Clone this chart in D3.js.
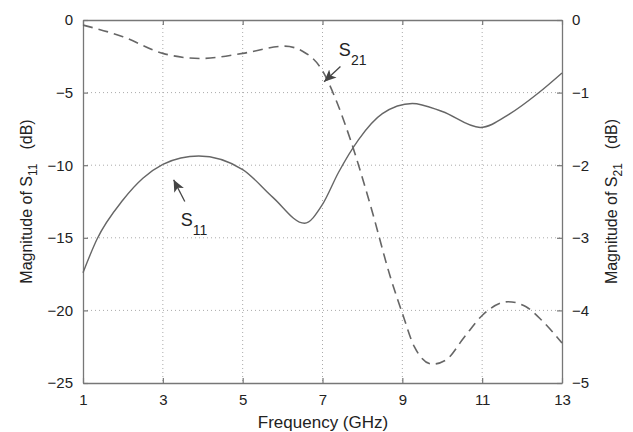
<!DOCTYPE html>
<html>
<head>
<meta charset="utf-8">
<script src="https://cdn.jsdelivr.net/npm/d3@7"></script>
<style>
  body { margin: 0; background: #fff; }
  text { font-family: "Liberation Sans", Arial, sans-serif; fill: #222; }
</style>
</head>
<body>
<svg id="chart"></svg>
<script>
const svgWidth = 633;
const svgHeight = 432;

// S11 (left axis, dB)
const s11Freq = [1, 1.35, 2, 2.5, 3, 3.45, 3.9, 5, 5.75, 6.55, 7, 7.4, 7.9, 8.5, 9.25, 10, 10.95, 11.7, 12.4, 13];
const s11Mag = [-17.4, -15.1, -12.4, -10.9, -9.95, -9.5, -9.37, -10.3, -12.2, -14.0, -12.7, -10.5, -8.25, -6.45, -5.75, -6.3, -7.4, -6.45, -5.05, -3.65];

// S21 (right axis, dB)
const s21Freq = [1, 2, 3, 3.95, 5, 6.05, 6.5, 7, 7.3, 7.7, 8.2, 8.7, 9, 9.3, 9.75, 10.1, 10.55, 11, 11.65, 12.1, 12.5, 13];
const s21Mag = [-0.07, -0.23, -0.46, -0.53, -0.46, -0.36, -0.43, -0.7, -1.05, -1.65, -2.55, -3.54, -4.04, -4.5, -4.74, -4.68, -4.37, -4.07, -3.88, -3.95, -4.14, -4.45];

const xTicks = [1, 3, 5, 7, 9, 11, 13];
const yLeftTicks = [0, -5, -10, -15, -20, -25];
const yRightTicks = [0, -1, -2, -3, -4, -5];

const margin = { top: 20, right: 71, bottom: 49, left: 83 };
const width = svgWidth - margin.left - margin.right;
const height = svgHeight - margin.top - margin.bottom;

const lineColor = "#666";
const axisColor = "#777";

const svg = d3.select("#chart")
  .attr("width", svgWidth)
  .attr("height", svgHeight);

const g = svg.append("g")
  .attr("transform", `translate(${margin.left},${margin.top})`);

const x = d3.scaleLinear().domain([1, 13]).range([0, width]);
const yL = d3.scaleLinear().domain([-25, 0]).range([height, 0]);
const yR = d3.scaleLinear().domain([-5, 0]).range([height, 0]);

// dotted grid
g.append("g").selectAll("line")
  .data(xTicks.slice(1, -1))
  .enter().append("line")
  .attr("x1", d => x(d)).attr("x2", d => x(d))
  .attr("y1", 0).attr("y2", height)
  .attr("stroke", "#aaa").attr("stroke-dasharray", "1,3");

g.append("g").selectAll("line")
  .data(yLeftTicks.slice(1, -1))
  .enter().append("line")
  .attr("x1", 0).attr("x2", width)
  .attr("y1", d => yL(d)).attr("y2", d => yL(d))
  .attr("stroke", "#aaa").attr("stroke-dasharray", "1,3");

const fmt = d3.format("");

// axes, ticks pointing inward
const xAxis = g.append("g")
  .attr("transform", `translate(0,${height})`)
  .call(d3.axisBottom(x).tickValues(xTicks).tickSizeInner(-5).tickSizeOuter(0).tickPadding(11).tickFormat(fmt));

const xTop = g.append("g")
  .call(d3.axisTop(x).tickValues(xTicks).tickSizeInner(-5).tickSizeOuter(0).tickFormat(""));

const yAxisL = g.append("g")
  .call(d3.axisLeft(yL).tickValues(yLeftTicks).tickSizeInner(-5).tickSizeOuter(0).tickPadding(10).tickFormat(fmt));

const yAxisR = g.append("g")
  .attr("transform", `translate(${width},0)`)
  .call(d3.axisRight(yR).tickValues(yRightTicks).tickSizeInner(-5).tickSizeOuter(0).tickPadding(10).tickFormat(fmt));

[xAxis, xTop, yAxisL, yAxisR].forEach(a => {
  a.select(".domain").attr("stroke", axisColor).attr("stroke-width", 1.3);
  a.selectAll(".tick line").attr("stroke", axisColor).attr("stroke-width", 1.2);
  a.selectAll(".tick text")
    .attr("fill", "#222")
    .style("font-size", "15px")
    .style("font-family", "Liberation Sans, Arial, sans-serif");
});

// curves
const lineL = d3.line()
  .x((d, i) => x(s11Freq[i]))
  .y(d => yL(d))
  .curve(d3.curveMonotoneX);

const lineR = d3.line()
  .x((d, i) => x(s21Freq[i]))
  .y(d => yR(d))
  .curve(d3.curveMonotoneX);

g.append("path")
  .datum(s11Mag)
  .attr("fill", "none")
  .attr("stroke", lineColor)
  .attr("stroke-width", 1.4)
  .attr("d", lineL);

g.append("path")
  .datum(s21Mag)
  .attr("fill", "none")
  .attr("stroke", lineColor)
  .attr("stroke-width", 1.6)
  .attr("stroke-dasharray", "10,6")
  .attr("d", lineR);

// arrow markers
svg.append("defs").append("marker")
  .attr("id", "arrow")
  .attr("viewBox", "0 0 10 10")
  .attr("refX", 10).attr("refY", 5)
  .attr("markerWidth", 12).attr("markerHeight", 12)
  .attr("markerUnits", "userSpaceOnUse")
  .attr("orient", "auto")
  .append("path")
  .attr("d", "M0,0.5 L10,5 L0,9.5 L2.5,5 Z")
  .attr("fill", "#444");

// annotations (positions in data coordinates)
function annotate(label, sub, fx, fy, tx, ty, lx, ly, scaleY) {
  g.append("line")
    .attr("x1", x(fx)).attr("y1", scaleY(fy))
    .attr("x2", x(tx)).attr("y2", scaleY(ty))
    .attr("stroke", "#444").attr("stroke-width", 1.3)
    .attr("marker-end", "url(#arrow)");
  const t = g.append("text")
    .attr("x", x(lx)).attr("y", scaleY(ly))
    .style("font-size", "18px")
    .attr("fill", "#333")
    .text(label);
  t.append("tspan")
    .attr("dy", 9)
    .style("font-size", "14px")
    .text(sub);
}

annotate("S", "11", 3.55, -12.5, 3.27, -11.0, 3.45, -14.2, yL);
annotate("S", "21", 7.45, -0.64, 7.04, -0.85, 7.41, -0.5, yR);

// axis titles
svg.append("text")
  .attr("transform", `translate(${svgWidth / 2 + 6.5},428)`)
  .attr("text-anchor", "middle")
  .style("font-size", "17px")
  .text("Frequency (GHz)");

function yTitle(xPos, sub) {
  const t = svg.append("text")
    .attr("transform", `translate(${xPos},${margin.top + height / 2}) rotate(-90)`)
    .attr("text-anchor", "middle")
    .style("font-size", "16px")
    .text("Magnitude of S");
  t.append("tspan").attr("dy", 5).style("font-size", "12px").text(sub);
  t.append("tspan").attr("dy", -5).attr("dx", 14).text("(dB)");
}
yTitle(32, "11");
yTitle(617, "21");
</script>
</body>
</html>
